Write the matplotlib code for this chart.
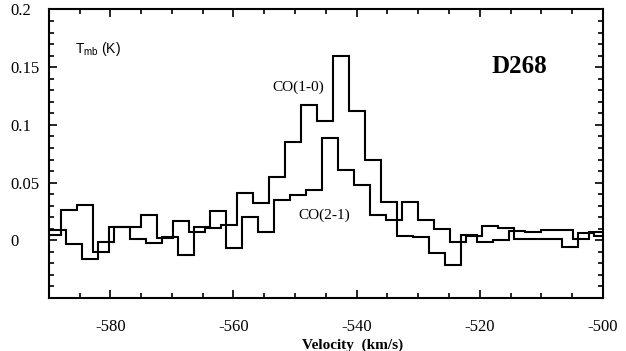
import numpy as np
import matplotlib.pyplot as plt
from matplotlib.ticker import MultipleLocator

# channel centres (km/s) and main-beam temperatures (K)
vel_co10 = [-589.3, -586.7, -584.1, -581.5, -578.9, -576.3, -573.7, -571.1, -568.5,
            -565.9, -563.3, -560.7, -558.1, -555.5, -552.9, -550.3, -547.7, -545.1,
            -542.5, -539.9, -537.3, -534.7, -532.1, -529.5, -526.9, -524.3, -521.7,
            -519.1, -516.5, -513.9, -511.3, -508.7, -506.1, -503.5, -500.9]
tmb_co10 = [0.0045, 0.026, 0.031, -0.0105, 0.0115, 0.0115, 0.0215, 0.002, 0.0165,
            0.007, 0.0105, 0.0135, 0.041, 0.032, 0.055, 0.085, 0.117, 0.103,
            0.160, 0.112, 0.070, 0.033, 0.004, 0.0025, -0.011, -0.0215, 0.0045,
            -0.0015, 0.0, 0.008, 0.007, 0.0085, 0.0085, 0.0015, 0.007]

vel_co21 = [-591.1, -588.5, -585.9, -583.3, -580.7, -578.1, -575.5, -572.9, -570.3,
            -567.7, -565.1, -562.5, -559.9, -557.3, -554.7, -552.1, -549.5, -546.9,
            -544.3, -541.7, -539.1, -536.5, -533.9, -531.3, -528.7, -526.1, -523.5,
            -520.9, -518.3, -515.7, -513.1, -510.5, -507.9, -505.3, -502.7, -500.1]
tmb_co21 = [0.009, 0.009, -0.003, -0.016, -0.0015, 0.0115, 0.0015, -0.002, 0.003,
            -0.0125, 0.0115, 0.0255, -0.007, 0.020, 0.007, 0.035, 0.039, 0.044,
            0.089, 0.0605, 0.048, 0.022, 0.0175, 0.0335, 0.018, 0.010, -0.0015,
            0.004, 0.012, 0.0105, 0.001, 0.001, 0.001, -0.006, 0.006, 0.004]

ytick_vals = [0, 0.05, 0.1, 0.15, 0.2]
ytick_labels = ['0', '0.05', '0.1', '0.15', '0.2']


def channel_edges(v):
    v = np.asarray(v, dtype=float)
    mid = (v[:-1] + v[1:]) / 2
    return np.concatenate([[2 * v[0] - mid[0]], mid, [2 * v[-1] - mid[-1]]])


plt.rcParams['axes.unicode_minus'] = False
plt.rcParams['mathtext.default'] = 'regular'
serif = 'Liberation Serif'

fig = plt.figure(figsize=(6.26, 3.51), dpi=100)
ax = fig.add_axes([0.078, 0.151, 0.885, 0.822])

ax.stairs(tmb_co10, channel_edges(vel_co10), color='black', lw=1.5, baseline=None)
ax.stairs(tmb_co21, channel_edges(vel_co21), color='black', lw=1.5, baseline=None)

ax.set_xlim(-590, -500)
ax.set_ylim(-0.05, 0.2)

ax.xaxis.set_major_locator(MultipleLocator(20))
ax.xaxis.set_minor_locator(MultipleLocator(5))
ax.set_yticks(ytick_vals)
ax.set_yticklabels(ytick_labels)
ax.yaxis.set_minor_locator(MultipleLocator(0.01))

ax.tick_params(which='both', direction='in', top=True, right=True, width=1.2)
ax.tick_params(which='major', length=6)
ax.tick_params(which='minor', length=3.5)
ax.tick_params(axis='x', which='major', pad=15)
ax.tick_params(axis='y', which='major', pad=28)
for lbl in ax.get_yticklabels():
    lbl.set_ha('left')
    lbl.set_fontfamily(serif)
    lbl.set_fontsize(12)
for lbl in ax.get_xticklabels():
    lbl.set_fontfamily(serif)
    lbl.set_fontsize(12)

for sp in ax.spines.values():
    sp.set_linewidth(1.5)

ax.set_xlabel('Velocity  (km/s)', family=serif, fontsize=11, fontweight='bold')
ax.xaxis.set_label_coords(0.549, -0.142)

ax.text(0.047, 0.862, r'T$_{mb}$ (K)', transform=ax.transAxes, family='Liberation Sans',
        fontsize=10, va='center', ha='left')
ax.text(-549.5, 0.133, 'CO(1-0)', family=serif, fontsize=11, ha='center', va='center')
ax.text(-545.2, 0.0215, 'CO(2-1)', family=serif, fontsize=11, ha='center', va='center')
ax.text(-513.6, 0.1505, 'D268', family=serif, fontsize=18, fontweight='bold',
        ha='center', va='center')

fig.savefig('out.png', dpi=100)
